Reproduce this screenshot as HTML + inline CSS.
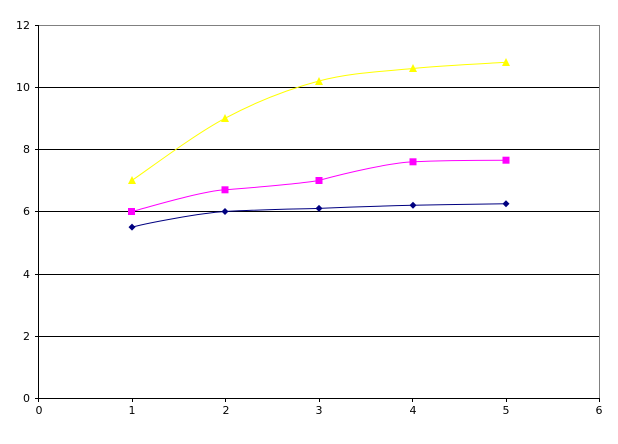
<!DOCTYPE html>
<html><head><meta charset="utf-8"><style>html,body{margin:0;padding:0;background:#fff}</style></head>
<body>
<svg width="618" height="439" xmlns="http://www.w3.org/2000/svg" font-family="'DejaVu Sans','Liberation Sans',sans-serif" font-size="11">
<rect x="0" y="0" width="618" height="439" fill="#fff"/>
<g stroke="#000" stroke-width="1" shape-rendering="crispEdges">
<line x1="38" y1="87.5" x2="599" y2="87.5"/>
<line x1="38" y1="149.5" x2="599" y2="149.5"/>
<line x1="38" y1="211.5" x2="599" y2="211.5"/>
<line x1="38" y1="274.5" x2="599" y2="274.5"/>
<line x1="38" y1="336.5" x2="599" y2="336.5"/>
</g>
<g stroke="#808080" stroke-width="1" shape-rendering="crispEdges" fill="none">
<line x1="38" y1="25.5" x2="599.5" y2="25.5"/>
<line x1="599.5" y1="25" x2="599.5" y2="398"/>
</g>
<g stroke="#000" stroke-width="1" shape-rendering="crispEdges">
<line x1="38.5" y1="25" x2="38.5" y2="399"/>
<line x1="38" y1="398.5" x2="600" y2="398.5"/>
<line x1="35" y1="25.5" x2="38" y2="25.5"/>
<line x1="35" y1="87.5" x2="38" y2="87.5"/>
<line x1="35" y1="149.5" x2="38" y2="149.5"/>
<line x1="35" y1="211.5" x2="38" y2="211.5"/>
<line x1="35" y1="274.5" x2="38" y2="274.5"/>
<line x1="35" y1="336.5" x2="38" y2="336.5"/>
<line x1="35" y1="398.5" x2="38" y2="398.5"/>
<line x1="38.5" y1="398" x2="38.5" y2="402"/>
<line x1="132.5" y1="398" x2="132.5" y2="402"/>
<line x1="225.5" y1="398" x2="225.5" y2="402"/>
<line x1="319.5" y1="398" x2="319.5" y2="402"/>
<line x1="412.5" y1="398" x2="412.5" y2="402"/>
<line x1="506.5" y1="398" x2="506.5" y2="402"/>
<line x1="599.5" y1="398" x2="599.5" y2="402"/>
</g>
<g text-anchor="end" fill="#000">
<text x="30" y="29">12</text>
<text x="30" y="91">10</text>
<text x="30" y="153">8</text>
<text x="30" y="215">6</text>
<text x="30" y="278">4</text>
<text x="30" y="340">2</text>
<text x="30" y="402">0</text>
</g>
<g text-anchor="middle" fill="#000">
<text x="39" y="414">0</text>
<text x="132" y="414">1</text>
<text x="226" y="414">2</text>
<text x="319" y="414">3</text>
<text x="413" y="414">4</text>
<text x="506" y="414">5</text>
<text x="599" y="414">6</text>
</g>
<path d="M132,180.4 C147.5,170 193.8,134.9 225,118.3 C256.2,101.7 287.7,89.3 319,81 C350.3,72.7 381.8,71.6 413,68.5 C444.2,65.4 490.5,63.3 506,62.3" fill="none" stroke="#ffff00" stroke-width="1"/>
<path d="M132,211.5 C147.5,207.5 200,191.5 225,189.8 C260,187 300,184 319,180.4 C350,172 390,163 413,161.8 C444,160.2 490,160.2 506,160.2" fill="none" stroke="#ff00ff" stroke-width="1"/>
<path d="M132,227.1 C147.5,223 200,213 225,211.5 C260,209.5 300,209 319,208.4 C350,207 390,205.8 413,205.3 C444,204.6 490,204 506,203.8" fill="none" stroke="#000080" stroke-width="1"/>
<g fill="#ffff00">
<polygon points="132,176 128,184 136,184"/>
<polygon points="225,114 221,122 229,122"/>
<polygon points="319,77 315,85 323,85"/>
<polygon points="413,64 409,72 417,72"/>
<polygon points="506,58 502,66 510,66"/>
</g>
<g fill="#ff00ff">
<rect x="128" y="208" width="7" height="7"/>
<rect x="221.5" y="186.3" width="7" height="7"/>
<rect x="315.5" y="177" width="7" height="7"/>
<rect x="409.5" y="158.3" width="7" height="7"/>
<rect x="502.5" y="156.7" width="7" height="7"/>
</g>
<g fill="#000080">
<polygon points="132,223.6 135.5,227.1 132,230.6 128.5,227.1"/>
<polygon points="225,208 228.5,211.5 225,215 221.5,211.5"/>
<polygon points="319,204.9 322.5,208.4 319,211.9 315.5,208.4"/>
<polygon points="413,201.8 416.5,205.3 413,208.8 409.5,205.3"/>
<polygon points="506,200.3 509.5,203.8 506,207.3 502.5,203.8"/>
</g>
</svg>
</body></html>
